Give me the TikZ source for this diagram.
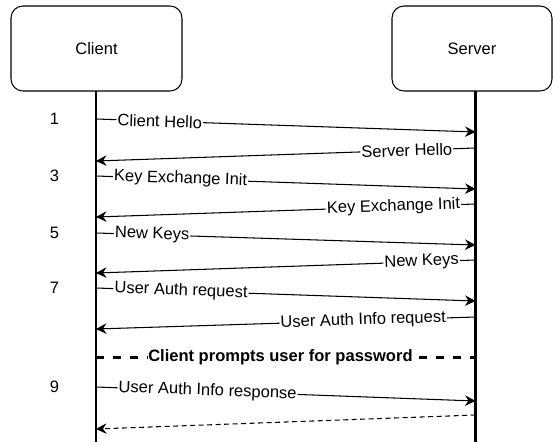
\documentclass[tikz,border=0pt]{standalone}
\usepackage{fontspec}
\setmainfont{Liberation Sans}
\usetikzlibrary{arrows.meta}
\tikzset{
  party/.style={draw,line width=0.6pt,rounded corners=0.24cm,minimum height=1.7cm},
  lifeline/.style={line width=1.4pt},
  msg/.style={line width=0.6pt,-{Stealth[length=2.1mm,width=2.1mm,inset=0.7mm]}},
  lbl/.style={fill=white,inner sep=0.6pt,sloped},
}
\begin{document}
\begin{tikzpicture}[scale=1,font=\fontsize{9.4}{11}\selectfont]
\useasboundingbox (0,0) rectangle (11.06,-8.84);
\node[party,minimum width=3.42cm] (client) at (1.93,-0.97) {Client};
\node[party,minimum width=3.2cm] (server) at (9.44,-0.97) {Server};
\coordinate (Ctop) at (1.92,-1.82);
\coordinate (Cbot) at (1.92,-8.84);
\coordinate (Stop) at (9.51,-1.82);
\coordinate (Sbot) at (9.51,-8.84);
\draw [lifeline] (Ctop) -- (Cbot);
\draw [lifeline] (Stop) -- (Sbot);
\coordinate (c1) at (1.92,-2.38); \coordinate (s1) at (9.51,-2.64);
\coordinate (s2) at (9.51,-2.96); \coordinate (c2) at (1.92,-3.22);
\coordinate (c3) at (1.92,-3.52); \coordinate (s3) at (9.51,-3.78);
\coordinate (s4) at (9.51,-4.08); \coordinate (c4) at (1.92,-4.34);
\coordinate (c5) at (1.92,-4.66); \coordinate (s5) at (9.51,-4.90);
\coordinate (s6) at (9.51,-5.20); \coordinate (c6) at (1.92,-5.46);
\coordinate (c7) at (1.92,-5.76); \coordinate (s7) at (9.51,-6.02);
\coordinate (s8) at (9.51,-6.34); \coordinate (c8) at (1.92,-6.58);
\coordinate (c9) at (1.92,-7.15); \coordinate (s9) at (9.51,-7.15);
\coordinate (c10) at (1.92,-7.74); \coordinate (s10) at (9.51,-8.02);
\coordinate (s11) at (9.51,-8.30); \coordinate (c11) at (1.92,-8.58);
\draw [msg] (c1) -- (s1) node[lbl,pos=0.168]{Client Hello};
\draw [msg] (s2) -- (c2) node[lbl,pos=0.181]{Server Hello};
\draw [msg] (c3) -- (s3) node[lbl,pos=0.223]{Key Exchange Init};
\draw [msg] (s4) -- (c4) node[lbl,pos=0.216]{Key Exchange Init};
\draw [msg] (c5) -- (s5) node[lbl,pos=0.148]{New Keys};
\draw [msg] (s6) -- (c6) node[lbl,pos=0.142]{New Keys};
\draw [msg] (c7) -- (s7) node[lbl,pos=0.224]{User Auth request};
\draw [msg] (s8) -- (c8) node[lbl,pos=0.296]{User Auth Info request};
\draw [line width=1.4pt,dash pattern=on 0.16cm off 0.18cm] (c9) -- (s9) node[fill=white,inner sep=0.3pt,pos=0.486]{\bfseries Client prompts user for password};
\draw [msg] (c10) -- (s10) node[lbl,pos=0.294]{User Auth Info response};
\draw [msg,dash pattern=on 0.1cm off 0.07cm] (s11) -- (c11);
\node (n1) at (1.09,-2.38) {1};
\node (n3) at (1.09,-3.52) {3};
\node (n5) at (1.09,-4.66) {5};
\node (n7) at (1.09,-5.76) {7};
\node (n9) at (1.09,-7.74) {9};
\end{tikzpicture}
\end{document}
